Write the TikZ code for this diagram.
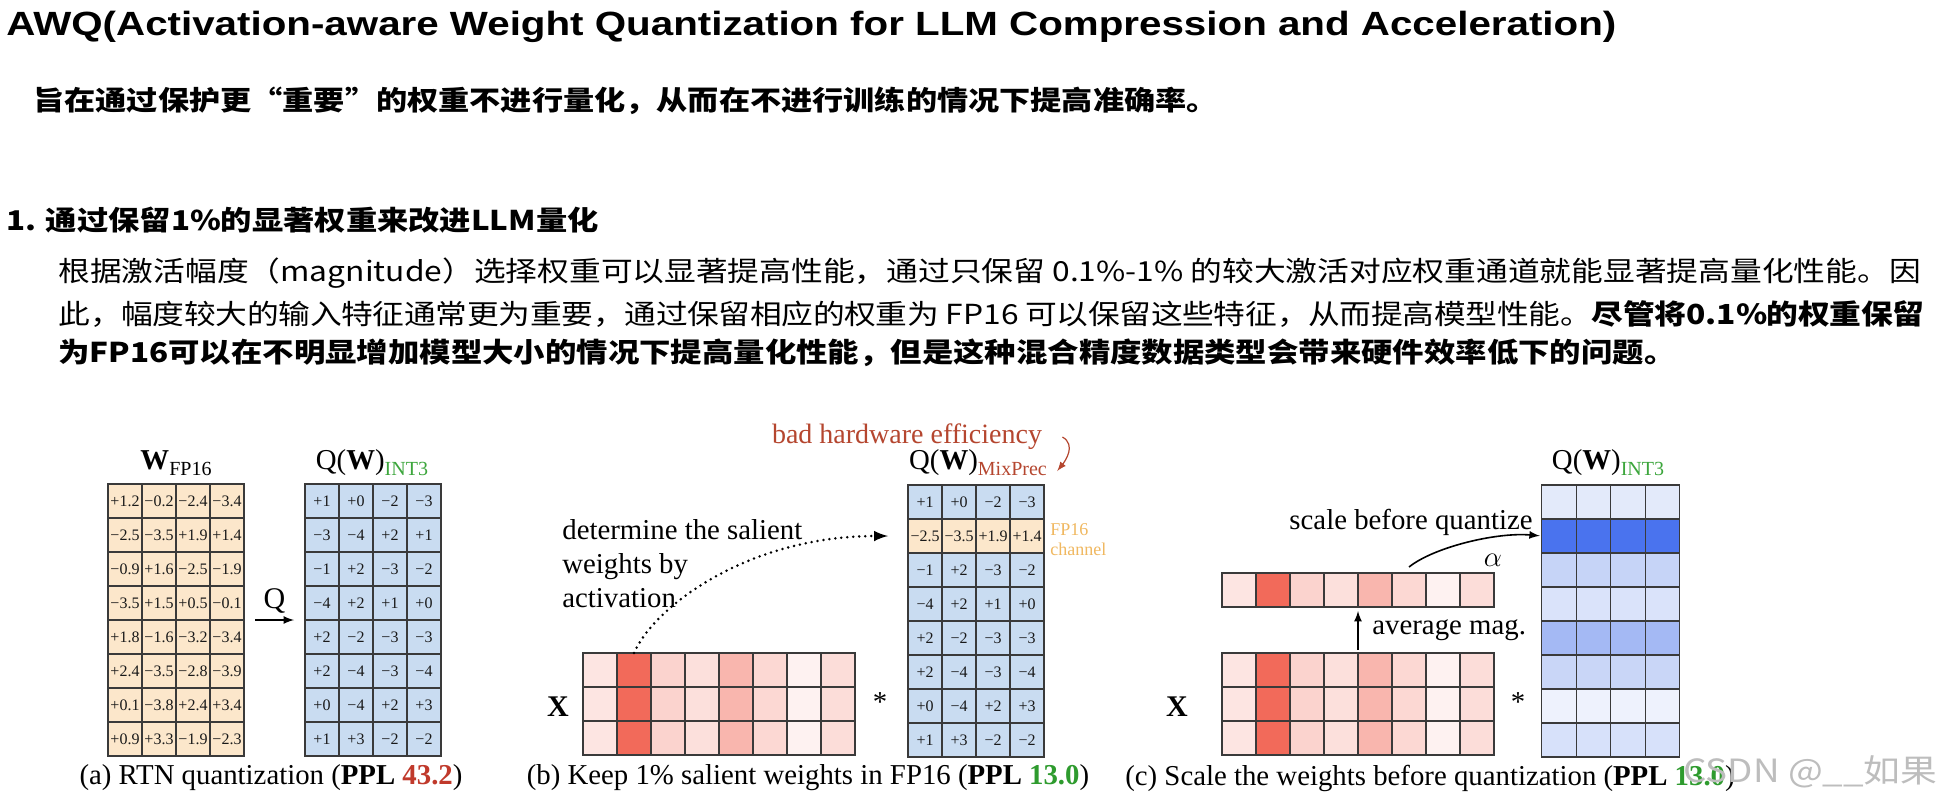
\documentclass[tikz,border=0pt]{standalone}
\usepackage{fontspec}
\setmainfont{Liberation Serif}
\newfontfamily\titlefont{Liberation Sans}[FakeStretch=1.2]
\newfontfamily\cjk{Noto Sans CJK SC}[FakeStretch=1.15]
\XeTeXlinebreaklocale "zh"
\XeTeXlinebreakskip=0pt plus 3pt minus 1pt
\usetikzlibrary{positioning}

\definecolor{wfill}{HTML}{FCE7CB}
\definecolor{qfill}{HTML}{C9DCF1}
\definecolor{gridc}{HTML}{3A3A3A}
\definecolor{pplred}{HTML}{C0392B}
\definecolor{hwred}{HTML}{B5462F}
\definecolor{intgreen}{HTML}{3CA63C}
\definecolor{pplgreen}{HTML}{2E9B2E}
\definecolor{fp16c}{HTML}{F0B860}
\definecolor{wmgray}{HTML}{BDBDBD}
\definecolor{xa1}{HTML}{FDE5E2}
\definecolor{xa2}{HTML}{F26A5A}
\definecolor{xa3}{HTML}{FBD3CE}
\definecolor{xa4}{HTML}{FCE0DC}
\definecolor{xa5}{HTML}{F9B6AE}
\definecolor{xa6}{HTML}{FCD8D3}
\definecolor{xa7}{HTML}{FEF2F1}
\definecolor{xa8}{HTML}{FCDDD9}
\definecolor{qc1}{HTML}{E3EAFA}
\definecolor{qc2}{HTML}{4A73EE}
\definecolor{qc3}{HTML}{C6D4F7}
\definecolor{qc4}{HTML}{DAE3FA}
\definecolor{qc5}{HTML}{A4B9F4}
\definecolor{qc6}{HTML}{C9D6F7}
\definecolor{qc7}{HTML}{EEF2FD}
\definecolor{qc8}{HTML}{D7E1FA}

\newcommand{\qw}[2]{Q(\textbf{W})\raisebox{-3pt}{\fontsize{10}{10}\selectfont\color{#1}#2}}

\tikzset{
  cell/.style={draw=gridc, line width=0.7pt, minimum width=17pt, minimum height=17pt,
    inner sep=0pt, outer sep=0pt, font=\fontsize{8}{8}\selectfont, text=black!90},
  lbl/.style={inner sep=0pt, font=\fontsize{14.4}{17}\selectfont},
  >=latex
}

\begin{document}
\begin{tikzpicture}[x=0.5pt, y=-0.5pt]
 \fill[white] (0,0) rectangle (1936,798);
 \useasboundingbox (0,0) rectangle (1936,798);

 % heading and text
 \node[anchor=west, inner sep=0pt, font=\titlefont\bfseries\fontsize{16.8}{20}\selectfont] (title) at (6,27)
   {AWQ(Activation-aware Weight Quantization for LLM Compression and Acceleration)};
 \node[anchor=west, inner sep=0pt, font=\cjk\bfseries\fontsize{13.55}{16}\selectfont] (aim) at (33,101)
   {旨在通过保护更“重要”的权重不进行量化，从而在不进行训练的情况下提高准确率。};
 \node[anchor=west, inner sep=0pt, font=\cjk\bfseries\fontsize{13.6}{17}\selectfont] (sec) at (6,220)
   {1. 通过保留1\%的显著权重来改进LLM量化};
 \node[anchor=west, inner sep=0pt, text width=933pt, align=justify, font=\cjk\fontsize{13.8}{17}\selectfont] (line1) at (58,273)
   {\parfillskip=0pt 根据激活幅度（magnitude）选择权重可以显著提高性能，通过只保留 0.1\%-1\% 的较大激活对应权重通道就能显著提高量化性能。因};
 \node[anchor=west, inner sep=0pt, text width=933pt, align=justify, font=\cjk\fontsize{13.8}{17}\selectfont] (line2) at (58,314)
   {\parfillskip=0pt 此，幅度较大的输入特征通常更为重要，通过保留相应的权重为 FP16 可以保留这些特征，从而提高模型性能。\textbf{尽管将0.1\%的权重保留}};
 \node[anchor=west, inner sep=0pt, font=\cjk\bfseries\fontsize{13.65}{17}\selectfont] (line3) at (58,353)
   {为FP16可以在不明显增加模型大小的情况下提高量化性能，但是这种混合精度数据类型会带来硬件效率低下的问题。};

 % (a) RTN
 \node[lbl] (wlbl) at (176,463) {\textbf{W}\raisebox{-3pt}{\fontsize{10}{10}\selectfont FP16}};
 \foreach \vals [count=\r from 0] in {{+1.2,−0.2,−2.4,−3.4},{−2.5,−3.5,+1.9,+1.4},{−0.9,+1.6,−2.5,−1.9},{−3.5,+1.5,+0.5,−0.1},
     {+1.8,−1.6,−3.2,−3.4},{+2.4,−3.5,−2.8,−3.9},{+0.1,−3.8,+2.4,+3.4},{+0.9,+3.3,−1.9,−2.3}}
   \foreach \v [count=\c from 0] in \vals
     \node[cell, fill=wfill] (wa-\r-\c) at (125+34*\c, 501+34*\r) {\v};

 \node[lbl] (qwa) at (372,463) {\qw{intgreen}{INT3}};
 \foreach \vals [count=\r from 0] in {{+1,+0,−2,−3},{−3,−4,+2,+1},{−1,+2,−3,−2},{−4,+2,+1,+0},
     {+2,−2,−3,−3},{+2,−4,−3,−4},{+0,−4,+2,+3},{+1,+3,−2,−2}}
   \foreach \v [count=\c from 0] in \vals
     \node[cell, fill=qfill] (qa-\r-\c) at (322+34*\c, 501+34*\r) {\v};

 \draw[->, line width=0.8pt] ([xshift=5.5pt]wa-3-3.south east) -- node[lbl, above=3pt, font=\fontsize{15}{17}\selectfont] (qop) {Q} ([xshift=-5.5pt]qa-3-0.south west);
 \node[lbl] (capa) at (271,778) {(a) RTN quantization (\textbf{PPL} \textcolor{pplred}{\textbf{43.2}})};

 % (b) keep salient weights
 \node[lbl] (qwb) at (978,463) {\qw{hwred}{MixPrec}};
 \node[lbl, text=hwred, font=\fontsize{14}{17}\selectfont] (bad) at (907,437) {bad hardware efficiency};
 \draw[->, hwred, line width=0.6pt] ([xshift=10pt]bad.east) .. controls +(14,8) and +(8,-10) .. ([xshift=5pt,yshift=-4pt]qwb.east);
 \foreach \vals [count=\r from 0] in {{+1,+0,−2,−3},{−2.5,−3.5,+1.9,+1.4},{−1,+2,−3,−2},{−4,+2,+1,+0},
     {+2,−2,−3,−3},{+2,−4,−3,−4},{+0,−4,+2,+3},{+1,+3,−2,−2}}
   \foreach \v [count=\c from 0] in \vals {
     \ifnum\r=1 \def\cf{wfill}\else\def\cf{qfill}\fi
     \node[cell, fill=\cf] (qb-\r-\c) at (925+34*\c, 502+34*\r) {\v};
   }
 \node[anchor=west, inner sep=0pt, align=left, text=fp16c, font=\fontsize{9}{10}\selectfont] (chan) at (1050,540) {FP16\\channel};

 \node[anchor=west, inner sep=0pt, align=left, font=\fontsize{14.4}{17}\selectfont] (salient) at (562,564)
   {determine the salient\\weights by\\activation};
 \foreach \col [count=\c from 0] in {xa1,xa2,xa3,xa4,xa5,xa6,xa7,xa8}
   \foreach \r in {0,1,2}
     \node[cell, fill=\col] (xb-\r-\c) at (600+34*\c, 670+34*\r) {};
 \node[lbl, font=\fontsize{15}{17}\selectfont\bfseries] (xlbb) at (558,707) {X};
 \node[lbl] (starb) at (880,702) {*};
 \draw[->, line width=1.4pt, dash pattern=on 0pt off 3pt, line cap=round, shorten >=10pt]
   (xb-0-1.north) .. controls +(21,-48) and +(-158,0) .. (qb-1-0.west);
 \node[lbl] (capb) at (808,778) {(b) Keep 1\% salient weights in FP16 (\textbf{PPL} \textcolor{pplgreen}{\textbf{13.0}})};

 % (c) scale before quantization
 \node[lbl] (qwc) at (1608,463) {\qw{intgreen}{INT3}};
 \foreach \col [count=\r from 0] in {qc1,qc2,qc3,qc4,qc5,qc6,qc7,qc8}
   \foreach \c in {0,...,3}
     \node[cell, minimum width=17.25pt, fill=\col] (qc-\r-\c) at (1559+34.5*\c, 502+34*\r) {};
 \foreach \col [count=\c from 0] in {xa1,xa2,xa3,xa4,xa5,xa6,xa7,xa8} {
   \node[cell, fill=\col] (avg-\c) at (1239+34*\c, 590) {};
   \foreach \r in {0,1,2}
     \node[cell, fill=\col] (xc-\r-\c) at (1239+34*\c, 670+34*\r) {};
 }
 \draw[->, line width=0.8pt, shorten <=1.5pt, shorten >=2pt] (xc-0-3.north east) -- (avg-3.south east);
 \node[lbl, anchor=west] (avgmag) at (1372,630) {average mag.};
 \node[lbl] (scale) at (1411,522) {scale before quantize};
 \node[lbl] (alpha) at (1493,560) {$\alpha$};
 \draw[->, line width=0.8pt, shorten >=1pt] ([yshift=3pt]avg-5.north) .. controls +(25,-20) and +(-45,-4) .. (qc-1-0.west);
 \node[lbl, font=\fontsize{15}{17}\selectfont\bfseries] (xlbc) at (1177,707) {X};
 \node[lbl] (starc) at (1518,702) {*};
 \node[lbl] (capc) at (1430,778) {(c) Scale the weights before quantization (\textbf{PPL} \textcolor{pplgreen}{\textbf{13.0}})};

 \node[anchor=west, inner sep=0pt, text=wmgray, font=\cjk\fontsize{16}{18}\selectfont] (wm) at (1683,772) {CSDN @\_\_如果};
\end{tikzpicture}
\end{document}
